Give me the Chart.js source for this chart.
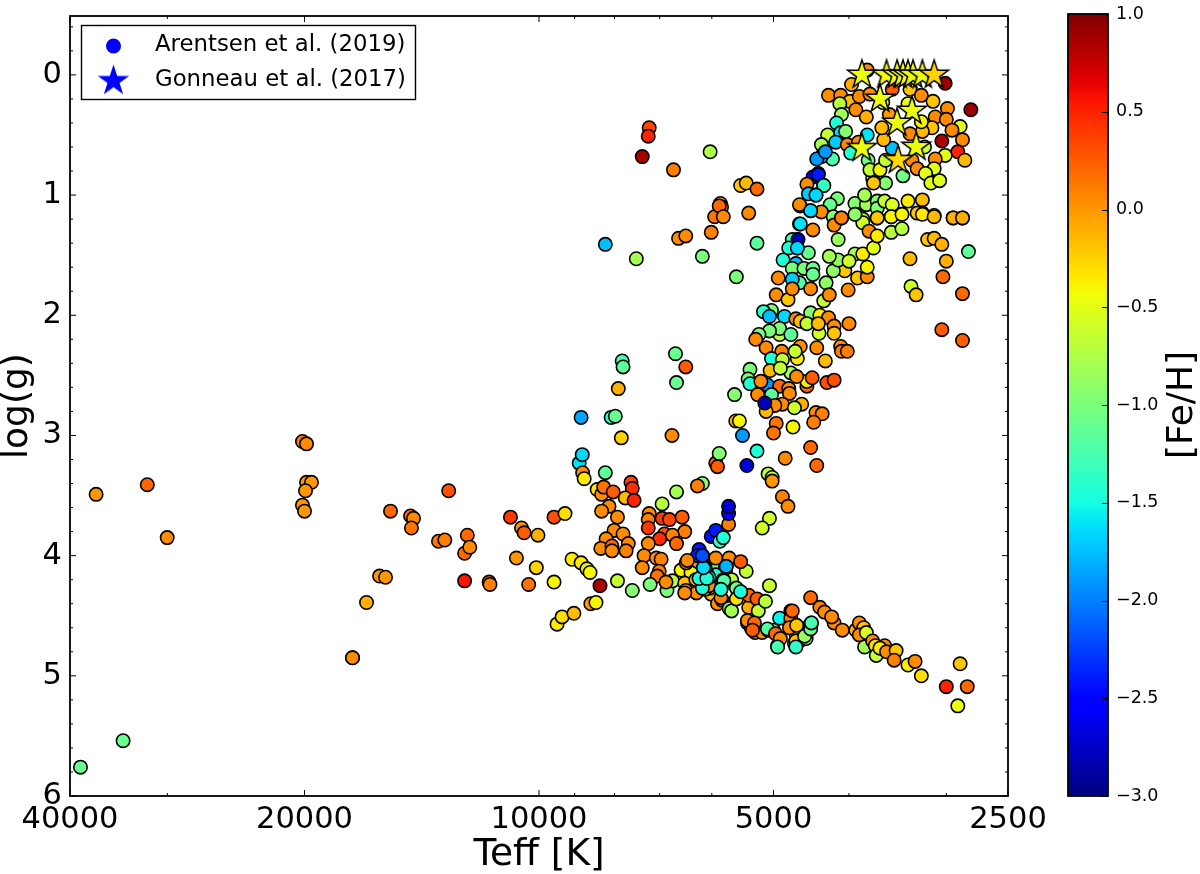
<!DOCTYPE html>
<html><head><meta charset="utf-8">
<script src="https://cdn.jsdelivr.net/npm/chart.js@4"></script>
<style>html,body{margin:0;padding:0;background:#fff;overflow:hidden}
canvas{position:absolute;top:0;display:block}</style></head>
<body>
<canvas id="main" width="1200" height="874" style="left:0"></canvas>
<canvas id="bar" width="160" height="874" style="left:1040px"></canvas>
<script>
const xTickValues=[40000,20000,10000,5000,2500];
const xMinorValues=[30000,9000,8000,7000,6000,4000,3000];
const yTickValues=[0,1,2,3,4,5,6];
const cbarTicks=[-3,-2.5,-2,-1.5,-1,-0.5,0,0.5,1];
const seriesLabels=["Arentsen et al. (2019)","Gonneau et al. (2017)"];

const teffHot=[38780,34190,37030,31830,30010,20120,19880,19880,19590,19940,
20120,20000,17354,17354,16650,16020,15740,15510,14620,14490,
14580,13460,13210,13060,12460,12360,12460,12270,11590,11560,
10880,10530,10450,10690,10310,10080,10030,9565,9260,9565,
9480,9340,9020,9070,8830,8680,8600,8580,8450,8350];
const loggHot=[5.76,5.54,3.49,3.41,3.85,3.05,3.07,3.39,3.39,3.46,
3.58,3.63,4.85,4.85,4.39,4.17,4.18,3.63,3.67,3.69,
3.77,3.88,3.87,3.46,4.21,3.83,3.98,3.93,4.22,4.24,
3.68,3.77,3.81,4.02,4.24,4.10,3.83,3.68,3.65,4.22,
4.57,4.51,4.48,4.03,4.06,4.11,4.14,4.40,4.39,4.25];
const fehHot=[-1.1,-1.1,0,0.2,0.05,0.15,0.05,0,0,0,
0,0,0.25,0.05,-0.1,0,0,0.2,0.2,0.05,
0.15,0.15,0.1,0.3,0.55,0.2,0.2,0.05,0.15,0.1,
0.4,0.05,0.25,0,0.15,-0.25,-0.1,0.3,-0.3,-0.4,
-0.35,-0.3,-0.15,-0.35,-0.35,-0.4,-0.4,0,-0.4,0.85];

const teffIso=[7220,7240,7370,6720,6030,8220,7500,6620,6480,6010,
6170,5950,5850,5830,5870,5800,5510,5420,5250,5380,
5250,5580,7820,7800,7910,6680,6480,6660,8830,8080,
7980,7840,6750,5610,5590,5530,5480,5250,5410,5930,
5900,5870,4830,6170,6260,6660,5080,5020,5020,4870,
4790,5060,5170];
const loggIso=[0.44,0.51,0.68,0.79,0.64,1.41,1.53,1.36,1.34,1.31,
1.51,1.18,1.07,1.10,1.09,1.18,0.92,0.90,0.95,1.15,
1.40,1.68,2.38,2.43,2.61,2.32,2.43,2.56,2.85,2.85,
2.84,3.02,3.00,2.66,2.88,2.88,3.00,3.13,3.25,3.23,
3.26,3.15,3.19,3.40,3.42,3.47,3.32,3.35,3.38,3.51,
3.59,3.69,3.77];
const fehIso=[0.35,0.5,0.85,0.1,-0.75,-1.75,-0.8,0.05,0.05,0.1,
-1,0.15,0.05,0.1,0.2,0.05,-0.2,-0.15,0.2,0.05,
-1.15,-1,-1.25,-1.15,-0.1,-1.1,0.25,-1.1,-1.85,-1.45,
-1.1,-0.25,0.05,-0.95,-0.15,-0.4,-1.9,-1.45,-2.7,0.2,
0.25,-0.95,0.05,-0.95,0.1,-0.8,-0.65,-0.6,0,0.1,
0.05,-0.6,-0.6];

const teffTurn=[8880,8800,8790,8220,8750,8420,8310,8260,8030,7620,
7590,7750,7550,8130,8310,7930,7220,7240,6950,6950,
6800,6550,7240,6900,6500,7000,6740,6660,7240,8010,
7800,8200,8330,8060,8060,7680,7730,7330,7070,6970,
7370,7010,7050,7930,7590,7200,6850,6740,6870,6570,
6380,6470,6500,6480,6280,6010,5900,5820,5700,5660,
5380,5380,5250,5230,5120,5060,5840,5750,6040,5990,
5930,5700,5760,5660,5930,6090,6290,6250,6120,6050,
5510,5580,5420,5510,5750,5800,5840,6170,6230,6050,
6120,6170,6230,6260,6010,5930,5860,5800,5710,5710,
5710];
const loggTurn=[3.23,3.16,3.31,3.31,3.36,3.45,3.49,3.43,3.47,3.39,
3.44,3.52,3.54,3.59,3.63,3.68,3.65,3.70,3.57,3.69,
3.70,3.68,3.77,3.82,3.80,3.86,3.83,3.90,3.90,3.79,
3.82,3.86,3.94,3.92,3.96,3.90,3.96,4.00,4.02,4.03,
4.10,4.13,4.17,4.21,4.29,4.24,4.29,4.21,4.22,4.12,
4.14,4.06,4.23,4.29,4.31,4.32,4.40,4.37,4.44,4.46,
4.43,4.33,4.36,4.46,4.38,4.25,4.35,4.22,4.27,4.08,
4.02,4.02,4.12,4.20,4.16,4.15,4.20,4.05,4.28,4.25,
4.30,4.27,4.13,4.05,4.09,4.20,4.28,4.27,4.19,4.18,
4.10,4.00,3.95,4.00,3.84,3.79,3.88,3.85,3.74,3.65,
3.59];
const fehTurn=[-1.6,-1.65,0.05,-1.15,-0.35,-0.35,0.05,0.15,0.25,0.35,
0.45,-0.15,0.5,0.05,0.05,0.05,0.05,0.1,-0.7,0.4,
0.35,0.25,0.4,0.3,0.1,0.45,0.1,0.2,0.05,0.05,
0.05,0.05,0.05,0.2,0.05,0.05,0.1,0.05,0.05,0.1,
0.05,0.1,0.15,-0.65,-0.95,-1,-1,-0.7,0.05,-0.4,
-0.4,0,-0.15,0,0.05,-0.15,0.05,0.1,-0.95,-0.8,
-0.1,0.2,0.25,-0.65,-0.7,-0.65,0.1,0,-0.1,-0.95,
0.05,0.05,-0.1,-0.7,-1.4,-1.45,-0.1,0,-1.45,0.05,
-1.45,-1.05,-0.65,0.25,-1.85,-1.25,-1.45,-1.45,-1.5,-1.6,
-1.85,-2.2,-2.4,-2.4,-2.45,-2.4,-1.35,-1.45,0.1,-2.6,
-2.7];

const teffDwarf=[5400,5340,5280,5170,5080,5000,4940,4700,4910,4750,
4750,4680,4670,4630,4540,4495,4470,4480,4360,4300,
4180,4210,4080,3920,3880,3830,3880,3800,3820,3730,
3700,3600,3690,3650,3580,3480,3500,3360,3290,3230,
3000,2880,2820,2900];
const loggDwarf=[4.56,4.60,4.64,4.64,4.62,4.62,4.75,4.73,4.52,4.46,
4.56,4.65,4.71,4.71,4.69,4.58,4.56,4.35,4.43,4.47,
4.56,4.51,4.62,4.62,4.56,4.60,4.66,4.64,4.76,4.71,
4.75,4.75,4.83,4.77,4.80,4.79,4.87,4.91,4.88,5.00,
5.09,4.90,5.09,5.25];
const fehDwarf=[0.05,0.1,0.05,0.05,-1.15,-1.3,-1.1,-1.3,-1.55,0.05,
0.2,0,-0.1,0.05,-0.9,-0.8,-1.2,0.2,0.1,0.05,
0.05,0.05,0.05,-0.1,0.05,-0.2,0.05,-0.55,-0.8,0.05,
-0.3,0.05,-0.65,-0.35,0.05,-0.2,0.1,-0.35,0.05,-0.3,
0.5,-0.2,0.2,-0.45];

const teffTop=[3790,3010,2790,3970,4250,4100,3990,4110,3880,3760,
3920,3800,4090,4150,4260,4100,4040,4160,4340,4020,
3890,3790,3980,4200,4340,4400,4290,4380,4450,4310,
4530,4510,4410,4140,4230,4620,4480,4340,4630,4190,
4090,3930,3800,3820,3680,3680,3600,3520,3360,3220,
3220,3270,3110,2940,2860,3920,3840,3680,3530,3420,
3730,3590,3410,3780,3760,3650,3720,3590,3520,3610,
3630,3550,3520,3340,3230,3120,3620,3360,2990,3100,
3000,2880,2950,3130,3220,3340,3230,2860,3040,2900,
3010,2840,3100,3320,3270,3110,3190,3140,3060,3200];
const loggTop=[-0.04,0.07,0.29,0.08,0.17,0.17,0.22,0.24,0.18,0.16,
0.29,0.35,0.33,0.40,0.50,0.48,0.47,0.56,0.58,0.58,
0.56,0.50,0.65,0.70,0.68,0.70,0.64,0.82,0.85,0.92,
0.91,0.99,1.00,1.03,1.08,1.09,1.13,1.14,1.24,1.18,
1.19,1.07,1.08,1.00,1.05,1.11,1.05,1.08,1.05,1.04,
1.15,1.15,1.17,1.19,1.19,1.16,1.20,1.19,1.18,1.16,
0.86,0.90,0.84,0.71,0.79,0.79,0.90,0.71,0.61,0.54,
0.44,0.33,0.12,0.12,0.17,0.22,0.23,0.24,0.28,0.35,
0.37,0.43,0.46,0.44,0.47,0.49,0.39,0.54,0.55,0.64,
0.67,0.71,0.70,0.71,0.78,0.78,0.82,0.90,0.88,0.60];
const fehTop=[0.05,0.9,0.9,-0.1,0.05,0.05,-0.15,-0.7,0.05,0.05,
0.05,-0.1,-0.8,-1.45,-0.65,-1.65,-0.95,-1.7,-0.8,0.05,
0.05,-1.6,-1.4,-1.25,-1.85,-1.9,-1.9,-2.4,-2.5,-1.4,
0.05,-1.7,-1.6,-1.0,-1.1,0.05,-1.7,0.05,-1.5,-0.95,
0.1,-0.95,-0.8,-0.8,-0.95,-0.95,-0.65,-0.55,-0.35,-0.15,
-0.35,-0.2,-0.35,-0.1,-0.1,-0.95,-0.7,-0.1,-0.55,-0.5,
-0.8,-0.95,-1.05,-1.05,-0.65,-0.4,-0.2,-0.65,-1.75,-0.15,
-0.15,0,0.25,-0.2,0.05,-0.2,-0.4,-0.45,0.05,0.05,
0.05,-0.5,0.05,-0.2,-0.15,0.05,-0.4,0.05,0.85,0.5,
-0.5,-0.15,0.05,0.05,0.05,-0.5,-0.5,-0.5,-0.5,-0.6];

const teffMid=[4620,4450,4660,4730,4660,4510,4780,4860,4680,4730,
4570,4450,4450,4630,4730,4930,4960,4790,4730,4480,
4280,4310,4240,4010,3900,3790,4050,3790,4190,4130,
4240,3930,3840,4000,3720,4130,4180,4090,3840,3770,
3680,3530,3420,3530,3420,3930,3680,3220,3110,2940,
2860,3170,3110,3040,2810,3000,3340,3030,3330,3280,
2860,3040,2860];
const loggMid=[1.24,1.29,1.37,1.37,1.44,1.48,1.44,1.54,1.57,1.61,
1.61,1.61,1.66,1.73,1.70,1.69,1.83,1.87,1.78,1.78,
1.73,1.88,1.83,1.79,1.69,1.68,1.63,1.60,1.63,1.54,
1.51,1.49,1.49,1.55,1.44,1.37,1.25,1.19,1.23,1.30,
1.34,1.31,1.28,1.18,1.16,1.16,1.19,1.16,1.18,1.19,
1.19,1.37,1.36,1.41,1.47,1.55,1.53,1.68,1.76,1.83,
1.82,2.12,2.21];
const fehMid=[-1.6,0.05,-2.8,-1.2,-1.65,-1.1,-1.45,-1.45,-1.75,-1,
-1,-1.1,-1.1,-1.2,-1.7,0.05,0.05,-0.2,0.05,0.05,
-0.9,-0.65,0.05,0.05,-0.2,0.05,-0.2,-0.4,-0.9,-0.9,
-0.8,-0.8,-0.35,-0.6,-0.5,-0.85,0.05,0.1,-0.6,0.05,
-0.35,-0.7,-0.7,-0.4,-0.4,-0.9,-0.2,-0.35,-0.15,-0.1,
-0.1,-0.2,-0.15,-0.1,-1.15,-0.1,-0.15,0.2,-0.6,-0.2,
0.2,0.25,0.25];

const teffLow=[5030,5150,5060,4840,4680,4620,4480,4530,4360,4250,
4180,4180,4000,4370,4380,4910,4910,5060,4750,5220,
5270,5110,4880,4620,4400,4100,4090,4020,4290,5030,
4870,4660,4690,5050,5360,5390,4750,4900,5360,5090,
4910,5190,4530,4530,4670,4460,4270,4180,4780,5240,
5030,4770,4600,4870,4980,4700,5110,5130,4410,4330,
4440,4960,5000,4720,4480,4400];
const loggLow=[1.96,1.97,2.01,2.01,2.03,2.05,1.98,2.07,2.00,2.02,
2.09,2.15,2.07,2.15,2.07,2.16,2.11,2.13,2.16,2.16,
2.20,2.27,2.30,2.26,2.27,2.26,2.30,2.30,2.38,2.36,
2.37,2.36,2.30,2.46,2.45,2.53,2.48,2.44,2.57,2.58,
2.59,2.55,2.59,2.55,2.51,2.52,2.56,2.54,2.61,2.66,
2.66,2.65,2.74,2.74,2.75,2.77,2.80,2.73,2.81,2.82,
2.89,2.90,2.98,2.93,3.10,3.25];
const fehLow=[-1,-1.4,-1.75,-1.65,0.05,-0.15,-0.95,-0.65,-0.35,0.05,
0.05,-0.2,0.05,-0.6,-0.15,-0.7,-1,-1,-1.15,-1,
0.05,0.05,0.1,0.05,0.05,0.05,0.1,0.1,-0.15,-1.45,
-0.65,-0.35,-0.65,-0.15,-1,-1,-0.8,-0.65,-1.45,-1.9,
0.2,0.05,0.2,-0.35,0.05,0.25,0.3,0.3,0.05,0.05,
-1.15,0.05,-0.1,0.05,0.05,-0.6,-0.15,-2.8,0.05,0.1,
0.1,0.15,0.15,-0.4,0.2,0.2];

const teffExtra=[6450,6500,5580,5400,5290,5320,5090,4970,4900,4940,
4750,4770,4670,4680,4680,6090,5790,6150,5840,5510,
5750,6170,4730,4560,4480,4470,4630,4380,4310,4410,
4480,4650,4660];
const loggExtra=[4.04,4.31,4.36,4.54,4.56,4.62,4.61,4.65,4.69,4.76,
4.52,4.60,4.58,4.71,4.76,4.19,4.21,4.10,4.28,4.30,
4.09,4.00,4.46,4.67,4.61,4.56,1.08,0.83,0.92,1.00,
1.13,1.37,1.44];
const fehExtra=[0.05,0.05,-0.3,0.05,0.2,0.25,-1.2,0.2,0.05,-1.25,
0.1,0.05,-0.2,-0.15,-1.35,-1.45,-1.2,-1.65,-1.45,-1.45,
-1.8,-2.2,0.2,-0.85,-1.1,-1.25,0.05,-2.4,-1.35,-1.65,
-1.65,-2.8,-1.65];

const teffStars=[3850,3580,3470,3410,3360,3310,3220,3110,3650,3320,3470,3280,3850,3460];
const loggStars=[0,0,0,0,0,0,0,0,0.2,0.3,0.4,0.6,0.61,0.71];
const fehStars=[-0.45,-0.42,-0.42,-0.42,-0.42,-0.42,-0.45,-0.25,-0.45,-0.45,-0.45,-0.45,-0.45,-0.28];

const teffCircles=[...teffHot,...teffIso,...teffTurn,...teffDwarf,...teffTop,...teffMid,...teffLow,...teffExtra];
const loggCircles=[...loggHot,...loggIso,...loggTurn,...loggDwarf,...loggTop,...loggMid,...loggLow,...loggExtra];
const fehCircles=[...fehHot,...fehIso,...fehTurn,...fehDwarf,...fehTop,...fehMid,...fehLow,...fehExtra];

function jet(t){
  t=Math.max(0,Math.min(1,t));
  const pw=(p)=>{for(let i=1;i<p.length;i++){if(t<=p[i][0]){const a=p[i-1],b=p[i];return a[1]+(b[1]-a[1])*(t-a[0])/(b[0]-a[0]);}}return p[p.length-1][1];};
  const r=pw([[0,0],[0.35,0],[0.66,1],[0.89,1],[1,0.5]]);
  const g=pw([[0,0],[0.125,0],[0.375,1],[0.64,1],[0.91,0],[1,0]]);
  const b=pw([[0,0.5],[0.11,1],[0.34,1],[0.65,0],[1,0]]);
  return `rgb(${Math.round(r*255)},${Math.round(g*255)},${Math.round(b*255)})`;
}
const fehColor=f=>jet((f+3)/4);

function starCanvas(fill,R,stroke,lw){
  const s=Math.ceil(R*2+6),c=document.createElement('canvas');c.width=s;c.height=s;
  const x=c.getContext('2d');x.beginPath();
  for(let i=0;i<10;i++){const r=i%2?R*0.382:R,a=-Math.PI/2+i*Math.PI/5,px=s/2+r*Math.cos(a),py=s/2+r*Math.sin(a);i?x.lineTo(px,py):x.moveTo(px,py);}
  x.closePath();x.fillStyle=fill;x.fill();
  if(stroke){x.strokeStyle=stroke;x.lineWidth=lw;x.lineJoin='miter';x.stroke();}
  return c;
}
const FONT='"DejaVu Sans"';

const framePlugin={id:'frame',afterDatasetsDraw(ch){
  const {ctx,chartArea:a,scales:{x,y}}=ch;
  ctx.save();ctx.strokeStyle='#000';
  const tick=(p,len)=>{ctx.lineWidth=1;ctx.beginPath();ctx.moveTo(p,a.top);ctx.lineTo(p,a.top+len);ctx.moveTo(p,a.bottom);ctx.lineTo(p,a.bottom-len);ctx.stroke();};
  xTickValues.forEach(v=>tick(x.getPixelForValue(v),6));
  xMinorValues.forEach(v=>tick(x.getPixelForValue(v),3));
  const ytick=(p,len)=>{ctx.lineWidth=1;ctx.beginPath();ctx.moveTo(a.left,p);ctx.lineTo(a.left+len,p);ctx.moveTo(a.right,p);ctx.lineTo(a.right-len,p);ctx.stroke();};
  for(let k=-2;k<=30;k++){const v=k/5;ytick(y.getPixelForValue(v),k%5===0?6:3);}
  ctx.lineWidth=1.8;ctx.strokeRect(a.left,a.top,a.right-a.left,a.bottom-a.top);
  const lx=81.5,ly=25.5,lw=334,lh=74;
  ctx.fillStyle='#fff';ctx.fillRect(lx,ly,lw,lh);ctx.lineWidth=1.4;ctx.strokeRect(lx,ly,lw,lh);
  ctx.fillStyle='#0000ff';ctx.beginPath();ctx.arc(113.5,46,7.5,0,2*Math.PI);ctx.fill();
  const st=starCanvas('#0000ff',16.5);ctx.drawImage(st,113.5-st.width/2,81-st.height/2);
  ctx.fillStyle='#000';ctx.font='22.8px '+FONT;ctx.textBaseline='middle';ctx.textAlign='left';
  ctx.fillText(seriesLabels[0],155,45);ctx.fillText(seriesLabels[1],155,80);
  ctx.restore();
}};

new Chart(document.getElementById('main'),{
  type:'scatter',
  data:{datasets:[
    {label:seriesLabels[0],order:1,data:teffCircles.map((t,i)=>({x:t,y:loggCircles[i]})),
      backgroundColor:fehCircles.map(fehColor),borderColor:'#000',borderWidth:1.6,pointRadius:6.7,pointHoverRadius:6.7},
    {label:seriesLabels[1],order:0,data:teffStars.map((t,i)=>({x:t,y:loggStars[i]})),
      pointStyle:fehStars.map(f=>starCanvas(fehColor(f),15,'#000',1.5)),pointRadius:15}
  ]},
  options:{responsive:false,animation:false,devicePixelRatio:1,
    layout:{padding:{top:14,right:192,left:0,bottom:0}},
    plugins:{legend:{display:false},tooltip:{enabled:false}},
    scales:{
      x:{type:'logarithmic',reverse:true,min:2500,max:40000,
        afterBuildTicks:s=>{s.ticks=xTickValues.map(v=>({value:v}));},
        afterFit:s=>{s.height=78;},
        grid:{display:false,drawTicks:false},border:{display:false},
        ticks:{autoSkip:false,maxRotation:0,padding:6,color:'#000',font:{family:FONT,size:30.5},callback:v=>String(v)},
        title:{display:true,text:'Teff [K]',color:'#000',font:{family:FONT,size:37.5,lineHeight:1},padding:{top:0,bottom:0}}},
      y:{type:'linear',reverse:true,min:-0.49,max:6,
        afterBuildTicks:s=>{s.ticks=yTickValues.map(v=>({value:v}));},
        afterFit:s=>{s.width=70;s.paddingTop=0;s.paddingBottom=0;},
        grid:{display:false,drawTicks:false},border:{display:false},
        ticks:{autoSkip:false,padding:8,color:'#000',font:{family:FONT,size:30.5},callback:v=>String(v)},
        title:{display:true,text:'log(g)',color:'#000',font:{family:FONT,size:36,lineHeight:1},padding:{top:0,bottom:0}}}
    }},
  plugins:[framePlugin]
});

const cbarPlugin={id:'cbar',beforeDatasetsDraw(ch){
  const {ctx,chartArea:a,scales:{y}}=ch;
  const g=ctx.createLinearGradient(0,a.bottom,0,a.top);
  for(let i=0;i<=64;i++)g.addColorStop(i/64,jet(i/64));
  ctx.save();ctx.fillStyle=g;ctx.fillRect(a.left,a.top,a.right-a.left,a.bottom-a.top);
  ctx.strokeStyle='#000';ctx.lineWidth=1;
  cbarTicks.forEach(v=>{const p=Math.round(y.getPixelForValue(v))+0.5;ctx.beginPath();ctx.moveTo(a.right-6,p);ctx.lineTo(a.right,p);ctx.stroke();});
  ctx.lineWidth=1.8;ctx.strokeRect(a.left,a.top,a.right-a.left,a.bottom-a.top);
  ctx.translate(143,405);ctx.rotate(-Math.PI/2);
  ctx.fillStyle='#000';ctx.font='36px '+FONT;ctx.textAlign='center';ctx.textBaseline='middle';
  ctx.fillText('[Fe/H]',0,0);
  ctx.restore();
}};
new Chart(document.getElementById('bar'),{
  type:'scatter',data:{datasets:[{data:[]}]},
  options:{responsive:false,animation:false,devicePixelRatio:1,
    layout:{padding:{top:14,bottom:78,left:28,right:0}},
    plugins:{legend:{display:false},tooltip:{enabled:false}},
    scales:{
      x:{display:false},
      y:{type:'linear',position:'right',min:-3,max:1,
        afterBuildTicks:s=>{s.ticks=cbarTicks.map(v=>({value:v}));},
        afterFit:s=>{s.width=92;s.paddingTop=0;s.paddingBottom=0;},
        grid:{display:false,drawTicks:false},border:{display:false},
        ticks:{autoSkip:false,padding:8,color:'#000',font:{family:FONT,size:17.5},
          callback:v=>(v<0?'\u2212':'')+Math.abs(v).toFixed(1)}}
    }},
  plugins:[cbarPlugin]
});
</script></body></html>
